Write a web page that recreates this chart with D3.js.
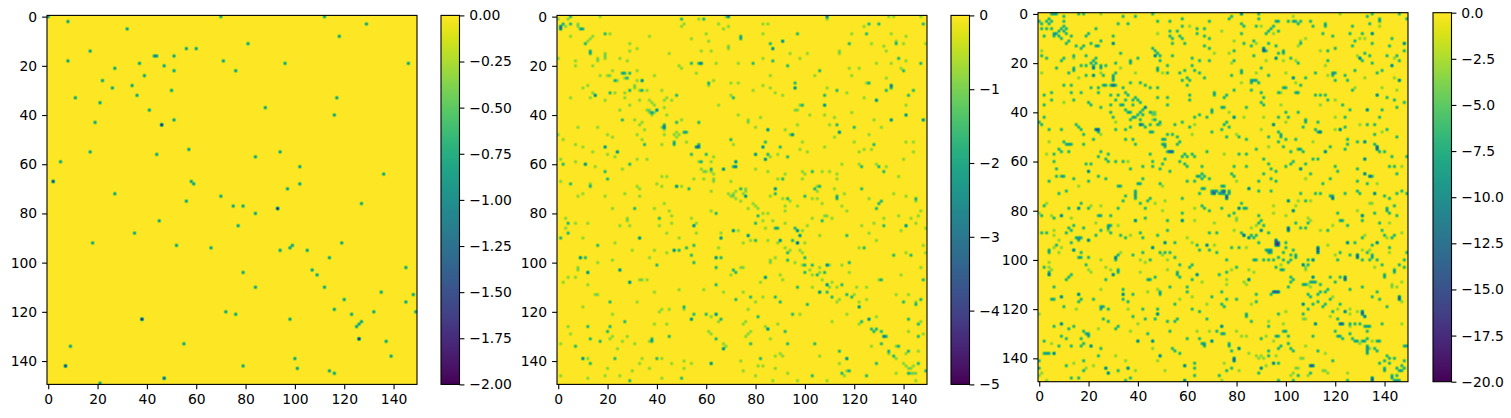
<!DOCTYPE html>
<html>
<head>
<meta charset="utf-8">
<script src="https://d3js.org/d3.v7.min.js"></script>
<style>
html, body { margin: 0; padding: 0; background: #fff; }
svg { display: block; }
text { font-family: "DejaVu Sans", sans-serif; fill: #000; }
</style>
</head>
<body>
<div id="chart"></div>
<script>
// non zero cells of the three matrices, [col, row] or [col, row, value]
// a cell without a value has the common value of its matrix

var valueA = -1;
var cellsA = [[0,0],[8,2],[32,5],[70,0],[112,0],[129,3],[118,8],[17,14],[56,13],[60,13],[81,11],[43,16],[44,16],[51,16],[8,18],[37,19],[71,18],[96,19],[146,19],
[27,21],[47,20],[51,22],[76,22],[39,24],[22,26],[34,28],[26,29],[50,30],[36,32],[11,33],[117,33],[21,35],[88,37],[41,38],[116,40],[51,42],[19,43],[46,44,-2],
[57,54],[17,55],[94,55],[44,56],[84,57],[5,59],[102,61],[136,64],[2,67,-1.8],[58,67],[59,68],[102,68],[97,70],[27,72],[70,73],
[56,75],[127,76],[75,77],[79,77],[93,78,-2],[84,80],[45,83],[77,85],[35,88],[18,92],[119,92],[52,93],[99,93],[98,94],[66,94],[94,95],[105,95],[114,98],[145,102],
[107,103],[109,105],[79,104],[84,110],[112,110],[135,112],[148,113],[120,115],[145,116],[116,119],[72,120],[132,120],[149,120],[76,121],[123,121],[38,123,-2],[98,123],
[127,124],[126,125],[125,126],[126,131,-2],[137,132],[9,134],[55,133],[139,138],[100,139],[7,142,-1.8],[79,142],[101,143],[114,144],[116,145],[47,147,-1.6],[21,149]];

var valueB = -1;
var cellsB = [[5,0,-2],[17,0],[59,1,-2],[69,0,-3],[68,0],[0,1],[4,1],[5,3,-2],[50,1,-2],[57,1],[2,3,-2],[8,3],[1,4,-3],[1,5,-3],[3,4],[8,4],[9,5,-2],[10,5,-2],[51,3],[50,4],[65,3],[67,5],[69,4],[60,7],[74,8,-2],
[19,7,-2],[21,7],[5,8],[14,8],[13,9],[12,10],[11,11,-2],[37,8],[54,9],[61,10],[29,11],[69,12],[69,13],[32,13],[13,14,-2],[13,15,-2],[29,14],[58,14],[62,14],[45,15],[0,17],[16,17],[16,18],[19,15],[19,16],[19,17],[25,17],[28,18],
[7,18],[7,20],[14,20],[49,20],[54,19,-2],[57,19,-2],[58,19,-3],[64,19],[73,19],[50,21],[22,22],[26,23,-2],[27,23,-2],[29,23,-2],[32,22],[56,23],[17,24],[20,24],[21,24],[39,24],[23,26,-2],[24,26],[27,25],[28,25,-2],[34,26,-3],[32,26],
[63,26],[61,27,-2],[61,28],[70,27],[73,27],[12,28],[10,29],[31,28],[31,29],[34,30,-2],[33,30],[29,30,-2],[36,30],[42,30],[14,31],[15,32,-3],[21,31,-2],[23,31],[27,31],[48,32,-2],[44,33],[70,32],[71,33,-2],[5,33],[13,33],[27,33],[33,34],
[37,34],[43,34],[19,34],[46,34],[38,35],[29,36],[39,36],[65,36],[43,37],[36,38],[37,38],[40,38,-3],[25,38],[38,39,-2],[37,39],[38,40],[39,39],[44,40],[73,40],[26,42,-2],[31,42],[50,42],[34,43],[48,43,-2],[57,43,-2],[33,44],[43,44,-2],
[43,45,-3],[42,45],[8,45],[16,45],[43,46],[35,46],[51,47,-2],[52,47,-2],[48,47],[47,48],[49,48],[43,48],[32,48],[0,48],[48,49],[20,48],[22,49],[2,50],[34,50],[70,50,-2],[47,51,-2],[52,51],[47,52,-2],[42,52],[35,52,-2],[57,52,-2],[71,52],
[7,52],[10,53],[19,53,-3],[56,53,-3],[57,53,-3],[14,55],[24,55,-3],[60,56,-2],[54,56,-2],[20,56],[23,57],[63,57],[1,58],[32,58],[36,58],[7,59],[2,60,-2],[11,60,-3],[29,60,-2],[57,59],[58,59,-2],[62,59],[72,59,-3],[15,61],[71,61,-2],
[72,61,-3],[26,62],[58,62],[67,62,-3],[62,62,-2],[19,63,-2],[59,63],[60,63],[62,63],[63,64],[20,66,-2],[42,65],[44,65],[55,66],[59,66],[63,66],[63,67],[70,67],[1,67],[5,68,-2],[13,68],[13,69,-2],[32,69],[40,68],[42,69],[48,69,-3],[50,69],
[53,70,-2],[33,70],[10,72],[8,73],[27,72],[62,71],[69,72],[70,73],[71,72],[71,73],[72,71],[74,70,-2],
[109,0,-3],[109,1],[134,0],[136,0],[147,0],[83,3],[85,3],[126,3,-2],[130,3,-2],[124,4],[148,3,-2],[97,7,-2],[74,9,-2],[83,7],[119,7],[125,7,-2],[135,7],[141,8],[91,10,-3],[86,11,-2],[118,11,-2],[137,10],[137,11,-2],[127,11],[140,11],[149,11],
[87,13,-3],[132,12],[133,14],[94,15],[101,15],[114,14],[114,15],[83,17],[98,17],[87,18,-2],[79,19,-2],[138,17,-2],[141,18],[135,19],[147,19,-2],[129,19],[93,20,-2],[118,21],[122,21],[139,21],[140,22,-2],[106,22,-2],[86,24],[104,24],[119,24],
[133,25],[125,27],[126,27,-2],[96,27,-2],[135,28,-3],[83,28],[86,29],[109,29],[96,29,-3],[135,29,-2],[133,30,-2],[144,30,-2],[113,30,-2],[79,30],[88,31],[91,32],[108,32,-2],[117,31],[142,32,-2],[124,33],[129,34,-3],[108,36,-3],[98,36],[99,36,-2],
[141,36],[96,38],[97,38],[119,39],[102,40],[108,40],[141,40,-3],[82,41],[112,41],[77,42],[77,43],[128,42],[135,42,-3],[148,42,-3],[97,44],[110,44],[113,44,-2],[80,45],[120,45,-2],[131,45],[85,46,-3],[92,46],[126,48],[114,47,-3],[94,48],
[95,48,-3],[112,49],[84,51,-2],[99,51],[120,51],[128,52,-2],[141,51],[144,51],[90,53,-2],[83,53,-3],[108,53],[98,54],[101,55],[124,54],[122,55],[127,54],[144,55],[85,56,-2],[80,56,-3],[86,57],[89,56],[93,57,-2],[84,58,-3],[140,58],[122,60],
[115,60],[80,62],[123,61,-2],[129,60],[130,61,-2],[133,61],[85,63],[99,63],[103,63,-2],[107,63],[110,63],[132,63,-2],[92,64],[100,64],[113,64],[138,65],[89,66],[91,66,-2],[99,66],[113,66],[105,69],[106,69,-2],[104,70,-2],[105,71],[112,70],
[123,70,-2],[116,72],[88,70,-3],[74,70,-2],[76,71],[76,70],[75,72],[88,72,-2],[76,73,-3],[136,72],[86,73],[100,73,-2],[113,73,-2],[141,73],[145,74,-2],[91,74],[93,74,-2],[103,74],[105,74],
[19,73],[33,73],[72,74],[74,75],[22,78],[31,78,-2],[39,78],[43,76],[45,79],[62,79],[64,80,-2],[46,81],[3,82],[28,82],[28,83],[41,82,-2],[54,82],[4,84,-2],[7,84],[12,84],[41,85],[46,84],[25,85],[29,85],[56,84],[55,85,-3],[3,86],[4,88,-2],[44,88],
[56,88],[66,88],[71,87,-3],[73,87],[1,90,-2],[10,90],[33,90,-3],[49,90],[66,90,-3],[23,92],[16,93,-2],[55,93,-2],[52,94,-2],[65,94],[30,95],[39,95],[47,95,-3],[49,95,-2],[44,96],[54,97,-2],[9,98,-3],[11,98,-2],[37,98],[64,98,-3],[66,98,-2],
[22,99],[16,100],[55,100,-2],[40,101,-2],[64,102,-2],[74,102],[8,102],[8,103],[25,103,-3],[71,103,-2],[12,104,-3],[72,104,-2],[70,105],[4,106],[7,106],[29,108,-3],[33,107],[34,107],[36,107],[2,108],[12,109],[64,109,-2],[49,111],[59,111],[39,112],
[67,112],[15,113],[16,113],[72,115,-2],[21,116,-2],[32,116],[10,118],[51,118,-2],[51,119],[42,119],[45,119],[41,120],[22,121],[55,121,-2],[60,121,-2],[64,121,-3],[62,122],[66,123,-2],[54,123,-3],[65,124],[27,124,-2],[39,125],[44,125],[4,126],
[12,126,-2],[21,126,-2],[20,128,-2],[61,128],[5,129],[62,129],[28,130],[22,130],[21,131],[13,131,-2],[45,130,-2],[38,131,-2],[38,132,-2],[37,132],[64,131,-2],[17,132,-2],[26,132],[1,133],[31,133],[67,133],[7,134,-2],[68,134],[24,135],[67,135,-3],
[10,139,-3],[12,139],[23,139,-2],[34,139],[40,139,-2],[42,139],[51,140],[74,140],[13,141,-2],[33,141],[46,141],[54,141],[62,141,-3],[20,143],[37,143],[51,143],[30,144],[1,146],[19,146],[25,146],[12,147],[42,147],[50,147,-2],[29,148,-2],
[86,73],[94,75],[113,74,-2],[126,74],[131,75,-2],[130,76,-2],[129,78,-2],[145,75],[79,76],[80,77],[77,78],[81,78],[92,77],[97,77],[107,76],[115,77],[117,79],[92,79],[147,79],[81,81,-2],[83,80],[85,80],[103,82],[108,81],[109,81],[111,82],[132,82],
[138,81],[143,82],[146,81],[80,84,-2],[83,83],[87,83],[107,83,-2],[92,84],[128,84],[145,84],[84,86],[88,86,-2],[89,86,-2],[96,86,-2],[101,85],[123,85],[132,85,-2],[141,85,-3],[149,86],[97,87,-3],[99,87],[139,87],[126,88],[77,89,-3],[98,89,-3],
[106,89],[117,89,-2],[78,91],[80,91,-2],[85,91],[90,91,-3],[95,91,-2],[129,91],[75,92],[89,92],[97,92,-4],[100,92],[92,94],[122,94],[124,94,-2],[148,93],[94,95],[98,95],[93,96,-2],[99,96],[141,96],[136,97,-2],[143,97,-2],[149,96],[88,98],
[100,98,-2],[86,99],[86,100],[93,99,-2],[96,100],[99,101],[100,101,-2],[103,101,-2],[109,101,-3],[110,101],[115,101],[118,100,-2],[75,102],[106,102],[147,102],[102,103],[100,104,-2],[103,105],[105,105,-2],[106,104],[108,104,-2],[118,104],[90,105],
[139,105],[84,106,-3],[91,107],[82,108],[107,107],[130,107],[131,107,-2],[148,107,-2],[109,109,-3],[111,108],[115,109,-2],[97,110,-2],[103,110],[110,110],[113,110],[121,110],[125,110],[75,112],[106,112,-3],[109,112,-2],[117,113,-2],[120,113],
[137,113],[142,113],[78,114,-2],[83,114],[88,114,-2],[111,114,-2],[119,114,-2],[114,115],[125,115],[147,115,-2],[80,116],[90,116,-2],[113,116],[122,116],[140,116,-2],[145,116],[145,117,-2],[101,117,-2],[122,118,-3],[77,119],[95,121,-2],[98,121],
[117,121],[81,122,-2],[129,122],[126,123,-3],[142,123,-2],[76,124],[111,124],[123,124,-2],[147,124],[75,125],[89,125],[122,125],[146,125,-2],[84,126],[85,127,-3],[127,127,-2],[129,127,-2],[128,128,-2],[131,128,-2],[78,128],[92,128,-2],[142,128],
[77,129],[76,130],[132,130,-3],[133,130,-2],[146,130,-2],[148,129],[86,131],[78,133,-2],[93,133,-2],[104,133,-2],[131,133,-2],[137,134],[138,134,-2],[127,134],[114,136,-2],[134,136,-2],[134,137],[142,136,-2],[146,136],[141,137],[90,137],[88,138],
[91,138],[106,138],[136,138,-2],[137,139],[82,139,-2],[117,139,-3],[114,141],[129,141,-2],[140,141],[146,141,-2],[141,142],[144,142],[81,142],[83,142],[88,143],[142,143],[143,143],[75,144],[117,144],[118,144,-2],[149,144,-2],[115,145,-2],[93,145],
[137,145],[142,145,-2],[143,145],[144,145],[145,145],[80,146],[103,146,-2],[116,146],[125,146,-2],[87,148],[97,148],[109,148],[145,148]];

var valueC = -8;
var cellsC = [[5,0],[6,0],[7,0],[10,1],[16,0],[18,0],[25,0,-4],[34,1],[39,1],[46,0],[0,3],[4,2],[3,3],[5,3],[4,4],[10,3],[1,4],[32,4],[36,4],[48,3],[53,3],[58,2],[69,3],[1,6],[3,6],[5,6],[9,6],[10,5],[11,6],[23,6],[58,5],[61,5,-4],[64,6],[67,6],
[8,7],[10,7],[7,8],[6,8],[11,8],[20,8],[48,8,-4],[53,7],[56,7],[64,8],[67,9],[2,9],[6,9],[8,9],[13,9],[19,9],[30,9],[54,10],[57,9],[58,10],[69,10],[53,9],[9,10],[12,11],[11,12],[25,11],[30,12,-13],[21,12],[54,12],[59,12],[23,13],[24,13],[18,13],
[17,14],[15,13],[67,13],[69,14],[46,14],[47,15],[33,16],[1,15,-4],[48,16],[71,16,-4],[1,17],[14,17],[19,17],[47,17,-13],[49,17],[54,17],[3,18],[10,18],[9,19],[14,18,-4],[37,19],[23,18],[62,18],[49,19],[65,19],[69,19],[40,18],[22,19],[21,20],
[23,20],[17,21],[19,21],[25,21],[27,21],[31,20],[37,20],[22,21],[22,22,-13],[7,22],[14,22],[14,23],[25,22],[52,21],[62,21],[33,22,-4],[48,22],[48,23],[59,23],[63,23],[1,24,-4],[12,24],[22,25,-13],[25,24,-4],[26,25],[31,24],[39,24,-4],[50,24,-4],
[52,24],[57,24],[65,24],[16,26,-4],[19,25],[30,25],[30,26],[30,27],[58,27],[60,26],[61,27],[67,26],[10,29],[13,29],[21,30],[24,30],[26,29],[27,29],[29,29],[30,29,-13],[31,29],[34,30],[37,28],[41,28],[43,29],[45,30],[48,30],[60,29],[5,32],[13,32],
[17,32],[24,32],[35,32],[71,32],[71,33],[2,33],[29,33],[32,33],[36,33],[39,34],[48,34],[52,34],[61,33],[5,35],[14,35],[31,35],[38,35],[40,35],[41,36],[35,35],[61,35],[20,36],[10,36,-4],[52,37],[34,37],[33,37],[2,37],[21,37],[29,37],[25,38],[38,37],
[43,38,-13],[35,39],[37,40],[42,39],[41,40],[45,40],[29,40],[36,40],[70,39],[70,40],[46,40,-4],[47,40,-4],[30,42],[40,41],[39,42],[38,42],[46,41,-4],[47,41,-4],[2,42],[42,41],[63,42],[65,41],[68,42],[46,43,-4],[41,43],[47,43],[0,44],[1,45],[15,45],
[31,44,-4],[37,43],[49,44],[48,45],[49,45,-4],[55,45],[58,44],[63,45,-4],[16,46],[17,47],[37,46],[41,45,-13],[42,45],[43,46],[45,45],[61,46],[4,47],[9,47],[23,47,-13],[24,47,-13],[24,48],[31,47],[35,47],[45,48],[46,48],[18,49],[25,49,-4],[70,48],
[62,49,-4],[52,49],[54,49],[56,50],[22,51],[35,51],[38,51],[51,51],[50,51],[4,52,-4],[10,52],[57,52],[11,53],[12,53],[13,53],[8,55],[18,53],[51,53],[39,53],[50,53],[51,54],[56,53],[52,56],[9,56],[12,56],[3,57,-4],[6,57],[53,56,-13],[54,56,-13],
[25,56],[28,57],[59,57],[62,57],[63,58],[24,58],[60,58],[68,56],[45,57],[58,58],[27,59],[28,60],[6,60],[19,61],[21,61],[31,60],[34,60],[36,60,-4],[46,60],[51,59],[57,60],[59,61],[60,62],[42,62],[46,62],[49,63],[50,61],[7,63],[20,64,-13],[37,63],
[66,62],[53,64],[24,66],[7,66],[9,66],[10,66],[14,67],[42,67],[64,66],[66,65],[65,66],[67,66],[66,67],[4,68],[20,68],[27,67],[41,69],[49,69],[60,68],[63,68],[69,67],[32,70],[33,70],[40,69],[50,70,-4],[16,70,-4],[66,71],[67,71],[11,72],[8,73],[39,72],
[39,73],[70,72],[71,72],[72,72],[70,73],[71,73,-13],[73,73],[35,74],[39,74],[65,73],
[82,0,-13],[89,0],[122,0,-4],[135,0],[146,0],[78,1],[77,2],[89,2],[103,1,-4],[138,2],[138,3],[133,1],[149,2],[96,3],[97,3],[101,3],[103,3],[104,3],[106,3],[110,3],[116,4],[116,5],[134,4],[82,4],[83,5],[88,5],[90,5,-4],[95,5],[94,6],[105,4],[111,5],
[127,5],[138,5,-4],[74,7,-4],[93,7],[97,7],[82,8],[92,8],[95,8,-4],[115,8],[126,8],[131,8],[135,8,-13],[119,9],[130,10,-4],[132,10,-4],[143,10],[79,11,-4],[87,11],[83,12],[88,12,-4],[93,12],[106,11,-4],[108,10,-4],[128,11],[135,12],[148,12,-13],
[86,13],[96,13],[106,12],[105,13,-4],[127,13],[142,13],[120,14],[79,15],[91,14,-13],[91,15,-13],[92,15],[77,16,-4],[97,16],[99,15],[99,16],[114,15,-4],[117,15],[148,15],[132,16],[129,17,-4],[134,17],[141,17],[145,17],[87,17],[79,19],[92,19,-4],
[96,18,-13],[99,19,-4],[102,18],[104,19,-4],[105,20],[117,19],[130,18,-13],[131,19],[144,18,-4],[146,19],[78,20,-4],[135,20],[90,22],[116,21,-4],[143,21,-13],[128,23],[139,23],[82,23],[82,24],[88,24,-4],[100,24,-4],[112,24],[119,24],[120,24],
[119,25],[137,24],[78,25],[93,25],[117,25,-4],[124,25],[103,26,-13],[108,26],[132,26,-4],[144,26,-4],[120,27],[125,27],[146,27,-13],[86,27],[87,27],[88,27],[86,28],[89,28],[82,28,-4],[104,28,-4],[106,29],[99,30],[100,30],[98,32,-4],[104,32],[105,32],
[128,30,-4],[127,31],[139,30,-4],[79,31],[86,31],[97,32],[145,31,-4],[90,32],[76,33],[112,33],[114,33],[116,33],[137,33,-13],[75,34],[91,34],[141,34],[144,35],[117,35],[120,35,-4],[148,36],[90,36],[91,37],[98,37,-4],[114,37,-4],[123,37],[74,38],
[75,38],[84,38],[145,38],[126,39],[133,39,-13],[139,39],[100,40],[105,40],[77,40,-4],[79,42,-13],[83,42,-4],[91,42,-4],[97,42],[101,42],[120,42,-4],[124,42],[138,42],[100,44,-4],[108,43],[108,44],[113,44],[76,44],[75,45],[130,45,-4],[95,45,-13],
[133,45],[136,45],[77,46],[107,46],[124,46],[74,47],[90,47,-4],[112,47],[113,48],[114,48,-13],[120,47,-4],[122,47,-13],[97,48],[141,47],[139,48,-4],[136,49],[80,49,-4],[98,49],[76,50],[81,50],[93,50],[98,50],[145,50],[84,51],[100,51],[104,51],
[125,51],[97,52],[111,52,-4],[129,52],[132,52,-13],[136,53],[125,53],[93,54,-4],[99,54],[118,54],[137,54,-13],[137,55,-13],[124,55],[105,55],[106,55],[88,55],[138,56],[140,56],[102,56],[107,56],[116,56,-13],[75,57,-4],[81,57],[84,57],[149,58],
[143,58],[91,59],[111,59],[113,59],[103,60],[132,59,-13],[93,61],[102,61],[108,61],[79,62],[84,62],[100,62],[120,62],[142,62],[144,62],[147,62,-4],[94,63],[106,63,-13],[129,63],[96,64],[121,64],[78,65],[91,65],[110,65],[132,65,-13],[145,65],[79,66],
[134,66,-13],[135,66],[94,67],[108,67,-4],[118,67],[80,68,-4],[89,68],[96,68],[115,69],[129,68],[133,69],[137,69,-4],[74,70],[75,70],[85,71,-13],[89,72],[94,72],[74,72],[75,72,-13],[74,73],[75,73],[77,72],[77,73],[106,73],[112,73],[124,73],[129,72],
[145,73],[147,72],[149,73],[76,74,-13],[118,74],[119,74],[119,75],[114,73],[130,73],[136,73,-13],[140,74],
[2,78],[3,77,-4],[16,79,-13],[17,77],[20,79],[21,78,-4],[12,79],[25,78,-4],[32,79],[34,76],[39,75],[41,77],[44,76],[45,75],[47,77,-4],[51,76,-4],[58,75],[43,79],[50,80,-4],[58,81],[63,79,-4],[66,78],[67,79],[69,80],[0,81,-4],[1,82],[5,82,-4],[9,82,-13],
[13,83,-4],[6,83],[24,82],[25,82],[29,82],[43,83],[39,84,-13],[52,84],[58,84,-13],[63,84,-4],[71,85,-4],[23,85,-4],[14,86],[12,87],[13,88],[18,87],[28,86],[28,87],[28,88,-4],[29,86],[32,86,-4],[25,88],[6,88,-4],[1,89],[3,89],[6,90,-4],[11,89],[41,89],
[48,90],[52,88],[60,91,-4],[69,89],[72,89],[29,89],[23,90],[33,90],[37,90,-4],[35,91],[42,91],[16,91],[17,91],[16,92],[15,91],[20,92,-13],[8,92,-4],[13,93],[7,94],[6,95,-4],[9,95,-4],[4,96],[4,97],[8,97,-4],[14,96,-13],[17,97],[51,93,-13],[55,93],
[46,95,-13],[62,93,-4],[64,94],[68,94,-13],[71,94,-4],[65,96],[69,96],[72,97],[42,97],[49,97],[50,98,-4],[51,97],[53,97],[52,100,-4],[55,99],[38,98],[33,97,-4],[32,98],[31,99,-13],[31,100],[16,99],[17,99],[20,99],[25,100,-4],[41,100,-4],[45,100],
[43,101,-4],[4,101,-4],[19,102],[2,103],[4,103,-4],[5,104,-4],[20,104,-4],[21,105,-4],[27,103,-4],[29,104,-4],[32,104],[32,105],[41,105,-4],[52,104,-4],[57,102],[62,102],[61,103],[4,105],[4,106,-13],[13,106],[12,107],[11,108],[30,106,-13],[56,105],
[56,106],[57,107],[47,107],[64,106,-13],[73,106],[27,108],[44,108],[45,108],[62,108],[66,109,-4],[6,111],[53,111],[60,111],[25,112,-4],[34,112],[48,112,-4],[49,113],[49,114],[44,113,-4],[60,113],[16,114,-13],[34,114,-13],[38,114],[9,115,-13],
[62,115,-4],[70,115],[5,116],[6,116],[17,116],[16,117],[22,116],[34,116],[57,116,-4],[36,117],[55,118],[68,118,-4],[25,119],[26,119],[25,120],[10,119],[15,120,-4],[28,120],[36,120,-4],[42,120],[48,120],[48,122,-13],[62,120],[65,121],[0,122,-4],
[26,124],[28,125],[38,123],[43,124],[47,124],[52,125],[55,125],[56,124],[68,124],[40,126,-4],[9,126,-13],[6,127],[14,127],[12,128],[32,127],[31,128],[24,128,-4],[37,129,-4],[18,129],[19,130],[20,130],[20,131],[9,131],[11,132],[17,132],[44,130],
[53,129],[64,129,-4],[69,129,-4],[72,129],[60,132],[65,132],[2,133],[40,133,-13],[46,133,-13],[70,133,-13],[66,134],[67,134],[67,135],[5,134,-4],[18,134],[21,135,-13],[13,135],[8,135],[17,135],[46,136,-4],[54,136],[55,137],[25,136],[2,138],[3,138],
[4,138],[6,138,-13],[57,138],[24,139],[31,139,-4],[49,139,-13],[18,141],[0,141],[35,141,-4],[48,141,-4],[14,142,-4],[63,142],[59,143,-13],[11,143],[22,143,-4],[0,144],[27,144,-13],[18,145],[19,144,-4],[32,145],[36,144,-13],[39,145,-4],[51,145,-4],
[63,144],[1,146,-4],[28,146,-13],[63,147],[13,148],[16,148],[37,148],[0,147,-4],[3,149,-4],[35,149],[59,149,-13],[73,147],
[76,75,-13],[101,76,-13],[105,76,-4],[108,76],[110,76,-4],[119,75,-13],[82,77],[81,79,-13],[83,79],[84,79],[79,81],[77,82],[74,79],[95,78,-4],[95,81,-4],[104,78,-4],[103,80,-13],[100,82,-4],[134,77,-4],[135,77,-4],[142,75],[144,78],[141,79],[141,80],
[142,81],[145,82],[129,80,-4],[136,81],[131,82,-13],[121,81],[89,82],[80,83,-4],[80,84,-4],[90,84],[89,85],[91,86],[104,85],[109,83,-4],[110,84,-4],[109,85],[122,84],[123,84],[131,84],[138,85],[142,85,-4],[125,86],[88,86,-4],[86,87,-4],[90,88,-13],
[101,87,-13],[101,88,-13],[106,87],[108,87],[114,88,-4],[117,88],[119,86,-4],[79,88,-4],[139,88],[82,89],[83,90,-16],[88,90],[85,91,-13],[87,91],[86,90],[89,93],[93,89],[140,90],[147,89,-4],[141,91,-4],[144,90],[132,90,-4],[143,91],[131,91],
[96,92,-13],[96,93,-13],[97,93,-13],[96,94,-13],[97,94,-13],[100,93],[125,93,-13],[128,93],[137,93,-13],[135,94],[100,95],[113,95,-13],[113,96,-13],[113,97,-13],[117,94,-4],[142,95],[78,95],[81,95],[84,95,-4],[92,96],[93,96],[94,96],[93,97],[94,97],
[103,96],[122,97],[131,96,-4],[134,96,-4],[133,97],[135,98],[135,99],[129,98,-13],[129,99,-13],[120,98,-4],[126,98],[142,97,-4],[99,97],[102,98],[104,98],[104,99],[149,97],[97,99],[93,100],[95,100],[99,100],[121,100],[131,100],[134,100],[137,100],
[148,100],[87,100],[88,100],[91,100],[102,100],[76,100],[111,100,-13],[109,100],[101,101],[107,102,-13],[109,102],[108,103,-4],[108,104,-4],[139,102],[146,102],[136,103,-4],[148,103],[78,104,-4],[80,103],[85,104,-4],[96,103],[98,102,-4],[98,104],
[99,104],[144,104],[144,105],[76,105],[87,105,-4],[111,107,-13],[118,107],[122,107],[124,107,-13],[124,108,-13],[140,106],[140,107],[102,107],[103,108],[76,108,-4],[83,109,-4],[84,110,-4],[85,108,-13],[111,109],[112,109],[110,109],[108,110],[107,110],
[109,110,-4],[102,109],[120,109],[76,110,-4],[147,109,-4],[143,110,-4],[143,111,-4],[101,111],[114,110],[110,111,-4],[117,112],[131,111],[145,111,-4],[126,112],[74,113],[95,113,-13],[96,113,-13],[97,113,-13],[94,114],[114,113],[113,114],[116,113],
[109,114],[110,115],[88,114],[137,113],[135,115],[146,115,-13],[146,116,-13],[147,117,-4],[119,115,-4],[138,116],[76,116],[80,116],[88,117],[86,118,-4],[74,118],[75,119],[107,118,-13],[111,118],[113,117],[116,118],[115,119],[118,116],[122,118],
[121,120,-4],[141,119],[109,120],[126,120,-4],[119,121],[124,121,-13],[131,121,-13],[131,122,-13],[132,123,-13],[129,121,-4],[107,122],[97,122],[100,121,-4],[84,122],[84,123],[118,123,-4],[126,122,-4],[121,124],[107,124,-4],[108,124,-4],[86,125],
[93,125,-4],[122,126,-13],[123,126,-13],[126,126],[128,126],[130,126],[112,126,-13],[99,126,-4],[139,126],[147,126,-4],[74,127,-13],[132,127],[133,127],[134,127],[126,127,-4],[93,127],[99,129],[100,129],[101,131],[120,129],[80,129,-4],[74,130],
[75,130],[126,130],[133,129],[96,131],[97,131],[121,131],[122,131],[123,132],[82,131,-4],[84,131,-4],[92,131,-4],[111,131],[127,132],[128,133],[129,133],[131,133],[132,133],[133,132],[90,132],[95,133,-4],[77,134],[77,135],[101,134],[98,135],
[130,134,-4],[137,133],[138,133],[135,133,-4],[134,136,-4],[133,135],[133,136],[133,137],[133,138],[136,136],[137,137],[148,135],[149,135],[78,137],[81,136,-13],[97,136],[93,137],[103,137],[108,135,-4],[113,137],[116,138,-4],[102,136],[85,138,-4],
[88,139,-4],[90,139,-4],[89,140,-4],[79,140,-13],[79,141,-13],[93,139],[96,139,-4],[106,140,-4],[107,140,-4],[119,141],[141,139],[142,140],[144,140],[140,141],[138,142],[142,142],[148,141],[91,140,-4],[95,142,-13],[97,142],[75,142,-4],[90,144,-13],
[92,143,-4],[76,145],[78,144],[81,145,-4],[104,144,-4],[105,144,-4],[110,143,-13],[111,143,-13],[140,144],[140,145],[145,144],[146,145],[147,143],[148,144],[147,145],[115,145,-4],[116,145,-4],[89,146],[103,146,-4],[109,147,-4],[102,147,-4],[105,147],
[110,146],[117,146,-4],[125,146,-4],[143,147],[143,148],[145,147],[145,149],[135,148,-13],[135,149,-13],[97,149],[103,149],[125,149],[146,149],[144,149],[74,149,-4]];

var axisTicks = [0, 20, 40, 60, 80, 100, 120, 140];
var barTicksA = [0, -0.25, -0.5, -0.75, -1, -1.25, -1.5, -1.75, -2];
var barTicksB = [0, -1, -2, -3, -4, -5];
var barTicksC = [0, -2.5, -5, -7.5, -10, -12.5, -15, -17.5, -20];

var w = 1511, h = 418;
var size = 150;
var fontSize = 13.9, tickLen = 4.9;

var panels = [
	{ id: "a", cells: cellsA, common: valueA, vmin: -2, ticks: barTicksA, fmt: ".2f", left: 47, top: 15.4, bar: 441 },
	{ id: "b", cells: cellsB, common: valueB, vmin: -5, ticks: barTicksB, fmt: "d", left: 557, top: 15.4, bar: 951 },
	{ id: "c", cells: cellsC, common: valueC, vmin: -20, ticks: barTicksC, fmt: ".1f", left: 1038, top: 12.7, bar: 1433 }
];

var svg = d3.select("#chart").append("svg")
	.attr("width", w)
	.attr("height", h);

// matplotlib upsamples by 2.47 with a hanning kernel, about one cell wide on each side
var kernelWidth = 1.15;
function hann(d) {
	return d >= 1 ? 0 : 0.5 + 0.5 * Math.cos(Math.PI * d);
}

panels.forEach(function(p) {
	var x = d3.scaleLinear().domain([-0.5, size - 0.5]).range([p.left, p.left + 370]);
	var y = d3.scaleLinear().domain([-0.5, size - 0.5]).range([p.top, p.top + 369]);
	var color = d3.scaleSequential(d3.interpolateViridis).domain([p.vmin, 0]);

	var g = svg.append("g").attr("class", "panel-" + p.id);

	g.append("rect")
		.attr("x", x(-0.5))
		.attr("y", y(-0.5))
		.attr("width", x(size - 0.5) - x(-0.5))
		.attr("height", y(size - 0.5) - y(-0.5))
		.attr("fill", color(0));

	// one value per cell, the same cell read twice counts once
	var byCell = new Map();
	p.cells.forEach(function(d) {
		byCell.set(d[0] * 1000 + d[1], d.length > 2 ? d[2] : p.common);
	});

	// spread each cell on the screen pixels around it
	var cw = (x(1) - x(0)) * kernelWidth, ch = (y(1) - y(0)) * kernelWidth;
	var screen = new Map();
	byCell.forEach(function(v, key) {
		var col = Math.floor(key / 1000), row = key % 1000;
		var cx = x(col), cy = y(row);
		for (var i = Math.floor(cx - cw); i <= Math.ceil(cx + cw); i++) {
			for (var j = Math.floor(cy - ch); j <= Math.ceil(cy + ch); j++) {
				if (i + 1 <= x(-0.5) || i >= x(size - 0.5) || j + 1 <= y(-0.5) || j >= y(size - 0.5)) continue;
				var k = hann(Math.abs(i + 0.5 - cx) / cw) * hann(Math.abs(j + 0.5 - cy) / ch);
				if (k <= 0) continue;
				var pk = i * 10000 + j;
				screen.set(pk, (screen.get(pk) || 0) + k * v);
			}
		}
	});

	g.append("g").selectAll("rect")
		.data(Array.from(screen, function(e) { return { i: Math.floor(e[0] / 10000), j: e[0] % 10000, v: e[1] }; }))
		.enter()
		.append("rect")
		.attr("x", function(d) { return d.i; })
		.attr("y", function(d) { return d.j; })
		.attr("width", 1)
		.attr("height", 1)
		.attr("fill", function(d) { return color(Math.max(d.v, p.vmin)); });

	g.append("g")
		.attr("transform", "translate(0," + y(size - 0.5) + ")")
		.call(d3.axisBottom(x).tickValues(axisTicks).tickSize(tickLen).tickPadding(tickLen).tickSizeOuter(0))
		.call(tidy);

	g.append("g")
		.attr("transform", "translate(" + x(-0.5) + ",0)")
		.call(d3.axisLeft(y).tickValues(axisTicks).tickSize(tickLen).tickPadding(tickLen).tickSizeOuter(0))
		.call(tidy);

	g.append("rect")
		.attr("x", x(-0.5))
		.attr("y", y(-0.5))
		.attr("width", x(size - 0.5) - x(-0.5))
		.attr("height", y(size - 0.5) - y(-0.5))
		.attr("fill", "none")
		.attr("stroke", "#000")
		.attr("stroke-width", 1.1);

	// colorbar
	var barW = 18.5;
	var barY = d3.scaleLinear().domain([p.vmin, 0]).range([y(size - 0.5), y(-0.5)]);
	var gradId = "bar-" + p.id;
	var grad = svg.append("defs").append("linearGradient")
		.attr("id", gradId)
		.attr("x1", 0).attr("x2", 0).attr("y1", 1).attr("y2", 0);
	grad.selectAll("stop")
		.data(d3.range(0, 1.001, 0.02))
		.enter()
		.append("stop")
		.attr("offset", function(d) { return d; })
		.attr("stop-color", function(d) { return d3.interpolateViridis(d); });

	g.append("rect")
		.attr("x", p.bar)
		.attr("y", barY(0))
		.attr("width", barW)
		.attr("height", barY(p.vmin) - barY(0))
		.attr("fill", "url(#" + gradId + ")")
		.attr("stroke", "#000")
		.attr("stroke-width", 1.1);

	g.append("g")
		.attr("transform", "translate(" + (p.bar + barW) + ",0)")
		.call(d3.axisRight(barY).tickValues(p.ticks).tickFormat(d3.format(p.fmt)).tickSize(tickLen).tickPadding(tickLen).tickSizeOuter(0))
		.call(tidy);
});

function tidy(sel) {
	sel.select(".domain").remove();
	sel.attr("font-family", "DejaVu Sans").attr("font-size", fontSize);
	sel.selectAll(".tick line").attr("stroke", "#000").attr("stroke-width", 1.1);
	sel.selectAll(".tick text").attr("fill", "#000");
}
</script>
</body>
</html>
